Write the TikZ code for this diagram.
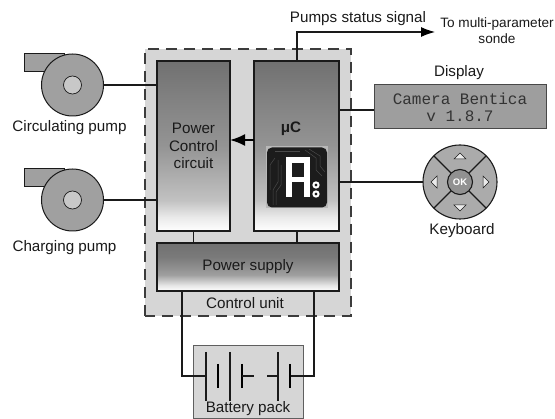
\documentclass[tikz,border=0pt]{standalone}
\usepackage{fontspec}
\setmainfont{Liberation Sans}
\newfontfamily\lcdfont{Liberation Mono}
\usetikzlibrary{arrows.meta}
\definecolor{ink}{HTML}{1A1A1A}
\definecolor{panelgray}{HTML}{D6D6D6}
\definecolor{pumpgray}{HTML}{A0A0A0}
\definecolor{hubgray}{HTML}{C8C8C8}
\definecolor{lcdgray}{HTML}{9E9E9E}
\definecolor{keygray}{HTML}{ABABAB}
\definecolor{chipdark}{HTML}{1C1C1C}
\definecolor{tracegray}{HTML}{4A4A4A}
\pgfdeclareverticalshading{tallblock}{100bp}{color(0bp)=(white);color(25bp)=(white);color(29bp)=(white!92!black);color(34bp)=(white!76!black);color(50bp)=(white!58!black);color(65bp)=(white!50!black);color(75bp)=(white!44!black);color(100bp)=(white!44!black)}
\pgfdeclareverticalshading{flatblock}{100bp}{color(0bp)=(white);color(25bp)=(white);color(31bp)=(white!90!black);color(42bp)=(white!62!black);color(60bp)=(white!48!black);color(75bp)=(white!44!black);color(100bp)=(white!44!black)}
\tikzset{
  wire/.style={draw=ink,line width=1.1pt},
  tallbox/.style={draw=ink,line width=1.1pt,shading=tallblock,inner sep=0pt,outer sep=0pt,align=center},
  flatbox/.style={draw=ink,line width=1.1pt,shading=flatblock,inner sep=0pt,outer sep=0pt},
  lbl/.style={inner sep=0pt,outer sep=0pt,text=ink,font=\fontsize{15.2}{17.5}\selectfont,align=center},
  pumpbody/.style={circle,draw=ink,line width=1pt,fill=pumpgray,minimum size=62pt,inner sep=0pt,outer sep=0pt},
  pumphub/.style={circle,draw=ink,line width=0.7pt,fill=hubgray,minimum size=18pt,inner sep=0pt},
  outlet/.style={draw=ink,line width=1pt,fill=pumpgray,inner sep=0pt,outer sep=0pt,minimum width=40pt,minimum height=18pt},
  plate/.style={line width=1.1pt,draw=ink},
  thickplate/.style={line width=2.6pt,draw=black},
  trace/.style={draw=tracegray,line width=0.5pt},
  keytri/.style={draw=ink,line width=0.5pt,fill=white!92!black}
}
\begin{document}
\begin{tikzpicture}[x=1pt,y=-1pt]
\useasboundingbox (0,0) rectangle (555,419);
\fill[white] (0,0) rectangle (555,419);
% control unit panel
\node[fill=panelgray,minimum width=206pt,minimum height=267pt,inner sep=0pt,outer sep=0pt] (unit) at (248,182.5) {};
\draw[draw=ink!85,line width=1.5pt,dash pattern=on 11pt off 7pt] (unit.south west) rectangle (unit.north east);
% blocks
\node[tallbox,minimum width=73pt,minimum height=170pt] (pcc) at (193.5,146) {};
\node[tallbox,minimum width=85pt,minimum height=170pt] (mcu) at (296.5,146) {};
\node[flatbox,minimum width=182pt,minimum height=48pt] (psu) at (248,267) {};
\node[lbl] (pcctext) at (193.5,146) {Power\\Control\\circuit};
\node[lbl,font=\fontsize{15.2}{17}\selectfont\bfseries] (mctext) at (291,129) {μC};
\node[lbl] (psutext) at (248,267) {Power supply};
\node[lbl] (unittext) at (245,303) {Control unit};
% pumps
\node[outlet] (out1) at (44,63) {};
\node[pumpbody] (pump1) at (72.5,85) {};
\node[pumphub] (hub1) at (72.5,85) {};
\node[lbl] (pump1text) at (69.5,128) {Circulating pump};
\node[outlet] (out2) at (44,178) {};
\node[pumpbody] (pump2) at (72.5,200) {};
\node[pumphub] (hub2) at (72.5,200) {};
\node[lbl] (pump2text) at (64.5,248) {Charging pump};
\draw[wire] (pump1.east) -- (pump1.east -| pcc.west);
\draw[wire] (pump2.east) -- (pump2.east -| pcc.west);
% internal connections
\coordinate (pccfoot) at (193.5,231);
\coordinate (mcufoot) at (297,231);
\draw[wire] (pccfoot) -- (pccfoot |- psu.north);
\draw[wire] (mcufoot) -- (mcufoot |- psu.north);
\coordinate (mculeft) at (254,140);
\draw[line width=2pt,draw=black,-{Latex[length=15pt,width=12pt]}] (mculeft) -- (mculeft -| pcc.east);
% status signal
\coordinate (mcutop) at (297,61);
\coordinate (sigend) at (435,32);
\draw[wire,-{Latex[length=14pt,width=10pt,black]}] (mcutop) |- (sigend);
\node[lbl] (sigtext) at (358,19) {Pumps status signal};
\node[lbl,font=\fontsize{13.6}{16}\selectfont] (sondetext) at (497,31) {To multi-parameter\\sonde};
% display
\node[draw=ink!80,line width=1pt,fill=lcdgray,minimum width=172pt,minimum height=44pt,inner sep=0pt,outer sep=0pt,align=center,text=black!80,font=\fontsize{16}{17}\lcdfont] (lcd) at (460,107) {Camera Bentica\\v 1.8.7};
\node[lbl] (lcdtitle) at (459,73) {Display};
\coordinate (mculcd) at (339,110);
\draw[wire] (mculcd) -- (mculcd -| lcd.west);
% chip
\node[fill=white!72!black,minimum size=62pt,inner sep=0pt] (chipbg) at (297,177.5) {};
\node[fill=chipdark,rounded corners=5pt,minimum size=60pt,inner sep=0pt] (chip) at (297,177.5) {};
\draw[trace] (273,205) -- (273,190) -- (278,182) -- (278,160);
\draw[trace] (276,205) -- (276,192) -- (281,185) -- (281,165);
\draw[trace] (270,190) -- (270,165) -- (275,158);
\draw[trace] (305,150) -- (316,158) -- (316,170) -- (322,176);
\draw[trace] (309,149) -- (320,156) -- (320,166) -- (325,172);
\draw[trace] (275,151) -- (300,151);
\draw[draw=white,line width=5.5pt] (289,197) -- (289,160) -- (307,160) -- (307,197);
\draw[draw=white,line width=5pt] (289,180) -- (307,180);
\draw[draw=white,line width=2pt] (316,185) circle[radius=2.6pt];
\draw[draw=white,line width=2pt] (316,194) circle[radius=2.6pt];
% keyboard
\node[circle,draw=ink,line width=1.1pt,fill=keygray,minimum size=74pt,inner sep=0pt,outer sep=0pt] (keys) at (460,182) {};
\draw[wire] (keys.north west) -- (keys.south east);
\draw[wire] (keys.north east) -- (keys.south west);
\node[circle,draw=ink,line width=1.1pt,fill=keygray!85!black,minimum size=25pt,inner sep=0pt,text=white,font=\fontsize{9.5}{9.5}\selectfont\bfseries] (okkey) at (460,182) {OK};
\draw[keytri] (460,153) -- (466,159) -- (454,159) -- cycle;
\draw[keytri] (460,211) -- (466,205) -- (454,205) -- cycle;
\draw[keytri] (431,182) -- (437,176) -- (437,188) -- cycle;
\draw[keytri] (489,182) -- (483,176) -- (483,188) -- cycle;
\node[lbl] (keytext) at (462,231) {Keyboard};
\coordinate (mcukey) at (339,182);
\draw[wire] (mcukey) -- (keys.west);
% battery
\node[draw=ink!70,line width=1pt,fill=panelgray,minimum width=110pt,minimum height=73pt,inner sep=0pt,outer sep=0pt] (batt) at (248,382.5) {};
\node[lbl] (batttext) at (248,409) {Battery pack};
\coordinate (psuleft) at (182,291);
\coordinate (psuright) at (314,291);
\coordinate (pa) at (206,376);
\coordinate (pb) at (290,376);
\draw[wire] (psuleft) |- (pa);
\draw[wire] (psuright) |- (pb);
\draw[plate] (206,352) -- (206,401);
\draw[thickplate] (218,364) -- (218,388);
\draw[plate] (230,352) -- (230,401);
\draw[thickplate] (242,364) -- (242,388);
\draw[wire] (242,376) -- (254,376);
\draw[wire] (267,376) -- (278,376);
\draw[plate] (278,352) -- (278,401);
\draw[thickplate] (290,364) -- (290,388);
\end{tikzpicture}
\end{document}
